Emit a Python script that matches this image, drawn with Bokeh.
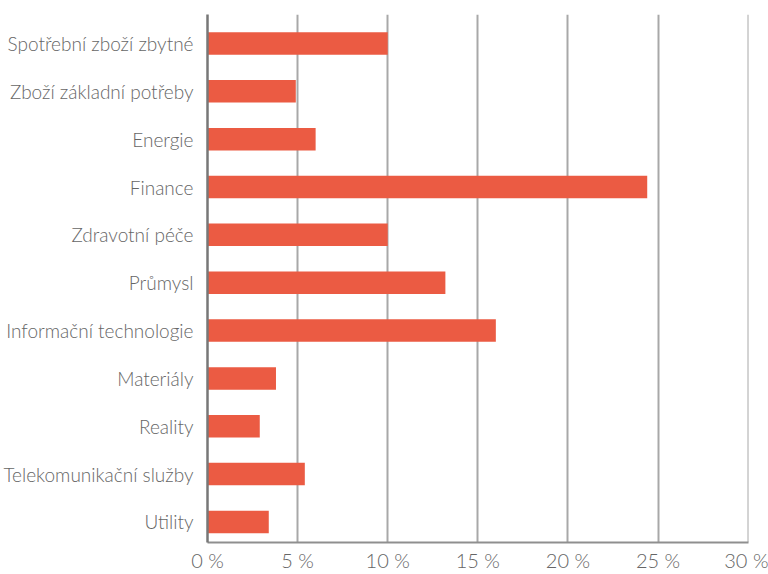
from bokeh.plotting import figure
from bokeh.models import Range1d, FixedTicker, ColumnDataSource
from bokeh.embed import file_html
from bokeh.resources import INLINE

categories = [
    "Spotřební zboží zbytné",
    "Zboží základní potřeby",
    "Energie",
    "Finance",
    "Zdravotní péče",
    "Průmysl",
    "Informační technologie",
    "Materiály",
    "Reality",
    "Telekomunikační služby",
    "Utility",
]
weights = [10.0, 4.9, 6.0, 24.4, 10.0, 13.2, 16.0, 3.8, 2.9, 5.4, 3.4]
x_ticks = [0, 5, 10, 15, 20, 25, 30]
x_tick_labels = ["0 %", "5 %", "10 %", "15 %", "20 %", "25 %", "30 %"]

FONT = "'Lato Light', Lato, sans-serif"
BAR = "#EB5B43"
TEXT = "#666666"

pos = list(range(len(categories)))
src = ColumnDataSource(dict(y=pos, w=weights))

p = figure(
    width=768, height=574,
    output_backend="svg", toolbar_location=None,
    x_range=Range1d(0, 30.02),
    y_range=Range1d(len(categories) - 0.57, -0.606),
    min_border_left=206, min_border_right=20, min_border_top=14, min_border_bottom=32,
)
p.outline_line_color = None

p.hbar(y="y", left=0, right="w", height=0.47, source=src, color=BAR, line_color=None)

# x axis
p.xaxis.ticker = FixedTicker(ticks=x_ticks)
p.xaxis.major_label_overrides = {t: l for t, l in zip(x_ticks, x_tick_labels)}
p.xaxis.major_tick_line_color = None
p.xaxis.minor_tick_line_color = None
p.xaxis.axis_line_color = "#8f8f8f"
p.xaxis.axis_line_width = 2
p.xaxis.major_label_standoff = -1
p.xaxis.major_label_text_font = FONT
p.xaxis.major_label_text_font_size = "20px"
p.xaxis.major_label_text_color = TEXT

# y axis
p.yaxis.ticker = FixedTicker(ticks=pos)
p.yaxis.major_label_overrides = {i: c for i, c in zip(pos, categories)}
p.yaxis.major_tick_line_color = None
p.yaxis.minor_tick_line_color = None
p.yaxis.axis_line_color = "#777777"
p.yaxis.axis_line_width = 2.5
p.yaxis.major_label_standoff = 8
p.yaxis.major_label_text_font = FONT
p.yaxis.major_label_text_font_size = "19px"
p.yaxis.major_label_text_color = TEXT

p.xgrid.grid_line_color = "#a8a8a8"
p.xgrid.grid_line_width = 2
p.ygrid.grid_line_color = None

open("out.html", "w").write(file_html(p, INLINE))
